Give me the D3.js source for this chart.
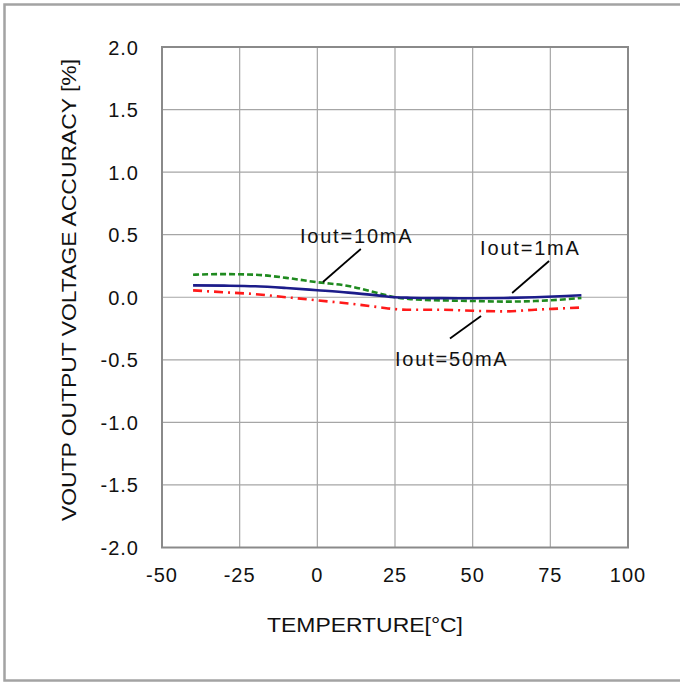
<!DOCTYPE html>
<html>
<head>
<meta charset="utf-8">
<script src="https://cdn.jsdelivr.net/npm/d3@7"></script>
<style>
  body { margin: 0; background: #fff; }
  text { font-family: "Liberation Sans", Arial, sans-serif; fill: #111; }
</style>
</head>
<body>
<svg id="chart" width="680" height="682"></svg>
<script>
// temperature points (°C)
var temps = [-40, -30, -20, -10, 0, 10, 20, 25, 30, 40, 50, 60, 70, 80, 85]
// accuracy [%] for each load current
var iout1mA  = [0.095, 0.093, 0.088, 0.074, 0.056, 0.037, 0.013, 0.0, -0.004, -0.007, -0.008, -0.006, 0.0, 0.01, 0.016]
var iout10mA = [0.18, 0.185, 0.18, 0.155, 0.12, 0.09, 0.03, 0.0, -0.015, -0.025, -0.03, -0.035, -0.03, -0.016, -0.006]
var iout50mA = [0.055, 0.04, 0.025, 0.0, -0.025, -0.05, -0.08, -0.095, -0.1, -0.1, -0.108, -0.113, -0.1, -0.088, -0.082]

var xTicks = [-50, -25, 0, 25, 50, 75, 100]
var yTicks = [-2.0, -1.5, -1.0, -0.5, 0.0, 0.5, 1.0, 1.5, 2.0]

// label text, label anchor (temp, %), leader line from / to (temp, %)
var notes = [
  {text: 'Iout=10mA', at: [-5.6, 0.434], from: [14.0, 0.386], to: [1.8, 0.122]},
  {text: 'Iout=1mA',  at: [52.4, 0.338], from: [74.6, 0.29],  to: [62.7, 0.034]},
  {text: 'Iout=50mA', at: [25.0, -0.55], from: [52.7, -0.15], to: [42.7, -0.33]}
]

var svg = d3.select('#chart')

// outer frame
svg.append('rect')
  .attr('x', 4.5).attr('y', 4.5).attr('width', 700).attr('height', 676)
  .attr('fill', 'none').attr('stroke', '#a3a3a3').attr('stroke-width', 2.5)

var x = d3.scaleLinear().domain([-50, 100]).range([162, 628])
var y = d3.scaleLinear().domain([-2, 2]).range([547.5, 47])

// grid
svg.append('g').selectAll('line.v')
  .data(xTicks.slice(1, -1)).enter().append('line')
    .attr('x1', d => x(d)).attr('x2', d => x(d))
    .attr('y1', y(2)).attr('y2', y(-2))
    .attr('stroke', '#a6a6a6').attr('stroke-width', 1.2)
svg.append('g').selectAll('line.h')
  .data(yTicks.slice(1, -1)).enter().append('line')
    .attr('x1', x(-50)).attr('x2', x(100))
    .attr('y1', d => y(d)).attr('y2', d => y(d))
    .attr('stroke', '#a6a6a6').attr('stroke-width', 1.2)

// plot border
svg.append('rect')
  .attr('x', x(-50)).attr('y', y(2))
  .attr('width', x(100) - x(-50)).attr('height', y(-2) - y(2))
  .attr('fill', 'none').attr('stroke', '#8a8a8a').attr('stroke-width', 2)

// tick labels
svg.append('g').selectAll('text')
  .data(xTicks).enter().append('text')
    .attr('x', d => x(d)).attr('y', 582)
    .attr('text-anchor', 'middle')
    .style('font-size', '20px').style('letter-spacing', '1px')
    .text(d => d)
svg.append('g').selectAll('text')
  .data(yTicks).enter().append('text')
    .attr('x', 139).attr('y', d => y(d) + 7.5)
    .attr('text-anchor', 'end')
    .style('font-size', '20px').style('letter-spacing', '1px')
    .text(d => d.toFixed(1))

// axis titles
svg.append('text')
  .attr('x', 267).attr('y', 632)
  .attr('textLength', 196).attr('lengthAdjust', 'spacingAndGlyphs')
  .style('font-size', '20px')
  .text('TEMPERTURE[°C]')
svg.append('text')
  .attr('transform', 'translate(76,521) rotate(-90)')
  .attr('textLength', 462).attr('lengthAdjust', 'spacingAndGlyphs')
  .style('font-size', '20px')
  .text('VOUTP OUTPUT VOLTAGE ACCURACY [%]')

// curves
var line = d3.line()
  .x(d => x(d[0])).y(d => y(d[1]))
  .curve(d3.curveMonotoneX)

var series = [
  {vals: iout50mA, color: '#ff1a1a', dash: '9,5,2,5'},
  {vals: iout10mA, color: '#1f8a1f', dash: '6,3'},
  {vals: iout1mA,  color: '#1c1c8a', dash: null}
]
series.forEach(function(s) {
  svg.append('path')
    .datum(temps.map((t, i) => [t, s.vals[i]]))
    .attr('d', line)
    .attr('fill', 'none')
    .attr('stroke', s.color)
    .attr('stroke-width', 2.6)
    .attr('stroke-dasharray', s.dash)
})

// annotations
notes.forEach(function(n) {
  svg.append('line')
    .attr('x1', x(n.from[0])).attr('y1', y(n.from[1]))
    .attr('x2', x(n.to[0])).attr('y2', y(n.to[1]))
    .attr('stroke', '#000').attr('stroke-width', 1.8)
  svg.append('text')
    .attr('x', x(n.at[0])).attr('y', y(n.at[1]))
    .style('font-size', '20px').style('letter-spacing', '1.8px')
    .text(n.text)
})
</script>
</body>
</html>
